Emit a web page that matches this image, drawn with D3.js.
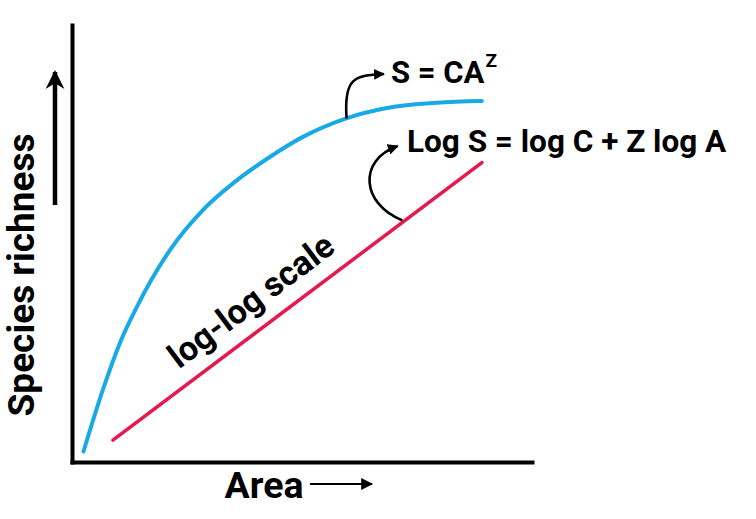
<!DOCTYPE html>
<html><head><meta charset="utf-8">
<script src="https://cdn.jsdelivr.net/npm/d3@7"></script>
<style>
html,body{margin:0;padding:0;background:#fff;}
svg{display:block;}
text{font-family:Roboto,"Noto Sans",sans-serif;font-weight:700;fill:#000;}
</style></head>
<body>
<svg id="c" width="756" height="519"></svg>
<script>
// Data (arbitrary units, 0-100 on both axes)
const arithmeticCurve = [
  [2.5,2.4],[6.7,16.5],[10.4,27.2],[14.1,35.5],[21.3,48.5],[28.5,57.7],
  [35.9,64.5],[43,69.8],[50.2,74.4],[59.8,78.7],[68.5,81],[79.3,82.2],[89.1,82.6]
];
const logLogLine = [[8.9,5.0],[89.1,68.5]];
const labels = {
  curve: "S = CA",
  curveSup: "Z",
  line: "Log S = log C + Z log A",
  lineLabel: "log-log scale",
  xTitle: "Area",
  yTitle: "Species richness"
};

const svg = d3.select("#c");
const x = d3.scaleLinear().domain([0,100]).range([72,532]);
const y = d3.scaleLinear().domain([0,100]).range([462,25]);

const defs = svg.append("defs");
defs.append("marker").attr("id","ah").attr("viewBox","0 0 10 10")
  .attr("refX",9).attr("refY",5).attr("markerWidth",4.2).attr("markerHeight",4.2)
  .attr("orient","auto").attr("markerUnits","strokeWidth")
  .append("path").attr("d","M0,0 L10,5 L0,10 Z").attr("fill","#000");
defs.append("marker").attr("id","ah2").attr("viewBox","0 0 10 10")
  .attr("refX",9).attr("refY",5).attr("markerWidth",9).attr("markerHeight",6)
  .attr("orient","auto").attr("markerUnits","strokeWidth")
  .append("path").attr("d","M0,0 L10,5 L0,10 Z").attr("fill","#000");
defs.append("marker").attr("id","ah3").attr("viewBox","0 0 10 10")
  .attr("refX",9).attr("refY",5).attr("markerWidth",4.2).attr("markerHeight",4.5)
  .attr("orient","auto").attr("markerUnits","strokeWidth")
  .append("path").attr("d","M0,0 L10,5 L0,10 L3,5 Z").attr("fill","#000");

// axes
svg.append("g").attr("transform",`translate(0,${y(0)})`)
  .call(d3.axisBottom(x).tickValues([]).tickSizeOuter(0))
  .call(g=>g.select(".domain").attr("stroke","#000").attr("stroke-width",4).attr("stroke-linecap","square"));
svg.append("g").attr("transform",`translate(${x(0)},0)`)
  .call(d3.axisLeft(y).tickValues([]).tickSizeOuter(0))
  .call(g=>g.select(".domain").attr("stroke","#000").attr("stroke-width",4).attr("stroke-linecap","square"));

const line = d3.line().x(d=>x(d[0])).y(d=>y(d[1])).curve(d3.curveMonotoneX);

svg.append("path").datum(arithmeticCurve).attr("d",line)
  .attr("fill","none").attr("stroke","#19a9e6").attr("stroke-width",4).attr("stroke-linecap","round");
svg.append("path").datum(logLogLine).attr("d",line)
  .attr("fill","none").attr("stroke","#e6194e").attr("stroke-width",3.5).attr("stroke-linecap","round");

// curved annotation arrows
const bez = (p)=>`M${x(p[0][0])},${y(p[0][1])} C${x(p[1][0])},${y(p[1][1])} ${x(p[2][0])},${y(p[2][1])} ${x(p[3][0])},${y(p[3][1])}`;
const arrow1 = [[59.7,78.6],[59.0,88.0],[61.5,88.5],[67.8,88.8]];
const arrow2 = [[71.8,55.3],[63.0,59.0],[62.0,69.0],[70.8,72.3]];
[arrow1, arrow2].forEach(a=>{
  svg.append("path").attr("d",bez(a)).attr("fill","none").attr("stroke","#000")
    .attr("stroke-width",2.6).attr("marker-end","url(#ah)");
});

// annotation texts
const t1 = svg.append("text").attr("x",391).attr("y",83).attr("font-size",31);
t1.append("tspan").text(labels.curve);
t1.append("tspan").attr("dy",-16).attr("dx",1).attr("font-size",19).text(labels.curveSup);

svg.append("text").attr("x",407).attr("y",152).attr("font-size",31.5).text(labels.line);

const ang = Math.atan2(y(logLogLine[1][1])-y(logLogLine[0][1]), x(logLogLine[1][0])-x(logLogLine[0][0]))*180/Math.PI;
svg.append("text").attr("transform",`translate(258,310) rotate(${ang})`)
  .attr("text-anchor","middle").attr("font-size",34).text(labels.lineLabel);

// axis titles with arrows
svg.append("text").attr("x",264).attr("y",498).attr("text-anchor","middle").attr("font-size",37.5).text(labels.xTitle);
svg.append("line").attr("x1",310).attr("y1",484).attr("x2",372).attr("y2",484)
  .attr("stroke","#000").attr("stroke-width",2).attr("marker-end","url(#ah2)");

svg.append("text").attr("transform","translate(34,275) rotate(-90)")
  .attr("text-anchor","middle").attr("font-size",37).text(labels.yTitle);
svg.append("line").attr("x1",55).attr("y1",205).attr("x2",55).attr("y2",72)
  .attr("stroke","#000").attr("stroke-width",4.5).attr("marker-end","url(#ah3)");
</script>
</body></html>
